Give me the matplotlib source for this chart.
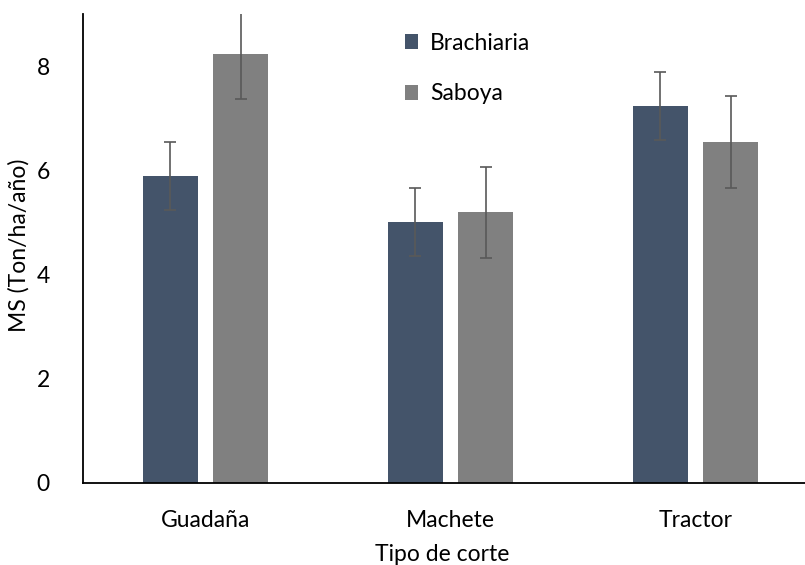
import matplotlib
matplotlib.use("Agg")
import matplotlib.pyplot as plt
import numpy as np

categories = ["Guadaña", "Machete", "Tractor"]
series_names = ["Brachiaria", "Saboya"]
brachiaria = [5.89, 5.00, 7.23]
brachiaria_err = [0.65, 0.65, 0.65]
saboya = [8.24, 5.19, 6.54]
saboya_err = [0.87, 0.88, 0.89]
yticks = [0, 2, 4, 6, 8]

plt.rcParams['font.family'] = ['Lato', 'DejaVu Sans']
FS = 16.5

fig = plt.figure(figsize=(8.05, 5.65), dpi=100)
ax = fig.add_axes([83/805, 1-482.7/565, 735/805, (482.7-14)/565])

x = np.arange(len(categories))
w = 0.224
off = 0.143
err_kw = dict(ecolor="#595959", elinewidth=1.2, capsize=4.5, capthick=1.2)
ax.bar(x - off, brachiaria, w, color="#44546A", yerr=brachiaria_err,
       error_kw=err_kw, label=series_names[0])
ax.bar(x + off, saboya, w, color="#808080", yerr=saboya_err,
       error_kw=err_kw, label=series_names[1])

ax.set_xlim(-0.5, 2.5)
ax.set_ylim(0, 9)
ax.set_yticks(yticks)
ax.set_xticks(x)
ax.set_xticklabels(categories)
ax.tick_params(axis='both', length=0, labelsize=FS, colors="#000000")
ax.tick_params(axis='y', pad=24)
ax.tick_params(axis='x', pad=20)
for s in ["top", "right"]:
    ax.spines[s].set_visible(False)
ax.spines["left"].set_linewidth(1.3)
ax.spines["bottom"].set_linewidth(1.3)

ax.set_xlabel("Tipo de corte", fontsize=FS)
ax.xaxis.set_label_coords(0.5 - 8/735, -(544 - 482.7) / 468.7)
ax.set_ylabel("MS (Ton/ha/año)", fontsize=FS)
ax.yaxis.set_label_coords(-(83 - 30) / 735, (482.7 - 245) / 468.7)

leg = fig.legend(loc="upper left", bbox_to_anchor=(384/805, 1-12/565),
                 frameon=False, fontsize=FS, labelspacing=1.3,
                 handlelength=0.6, handleheight=0.6, handletextpad=0.5)

fig.savefig("out.png", dpi=100)
